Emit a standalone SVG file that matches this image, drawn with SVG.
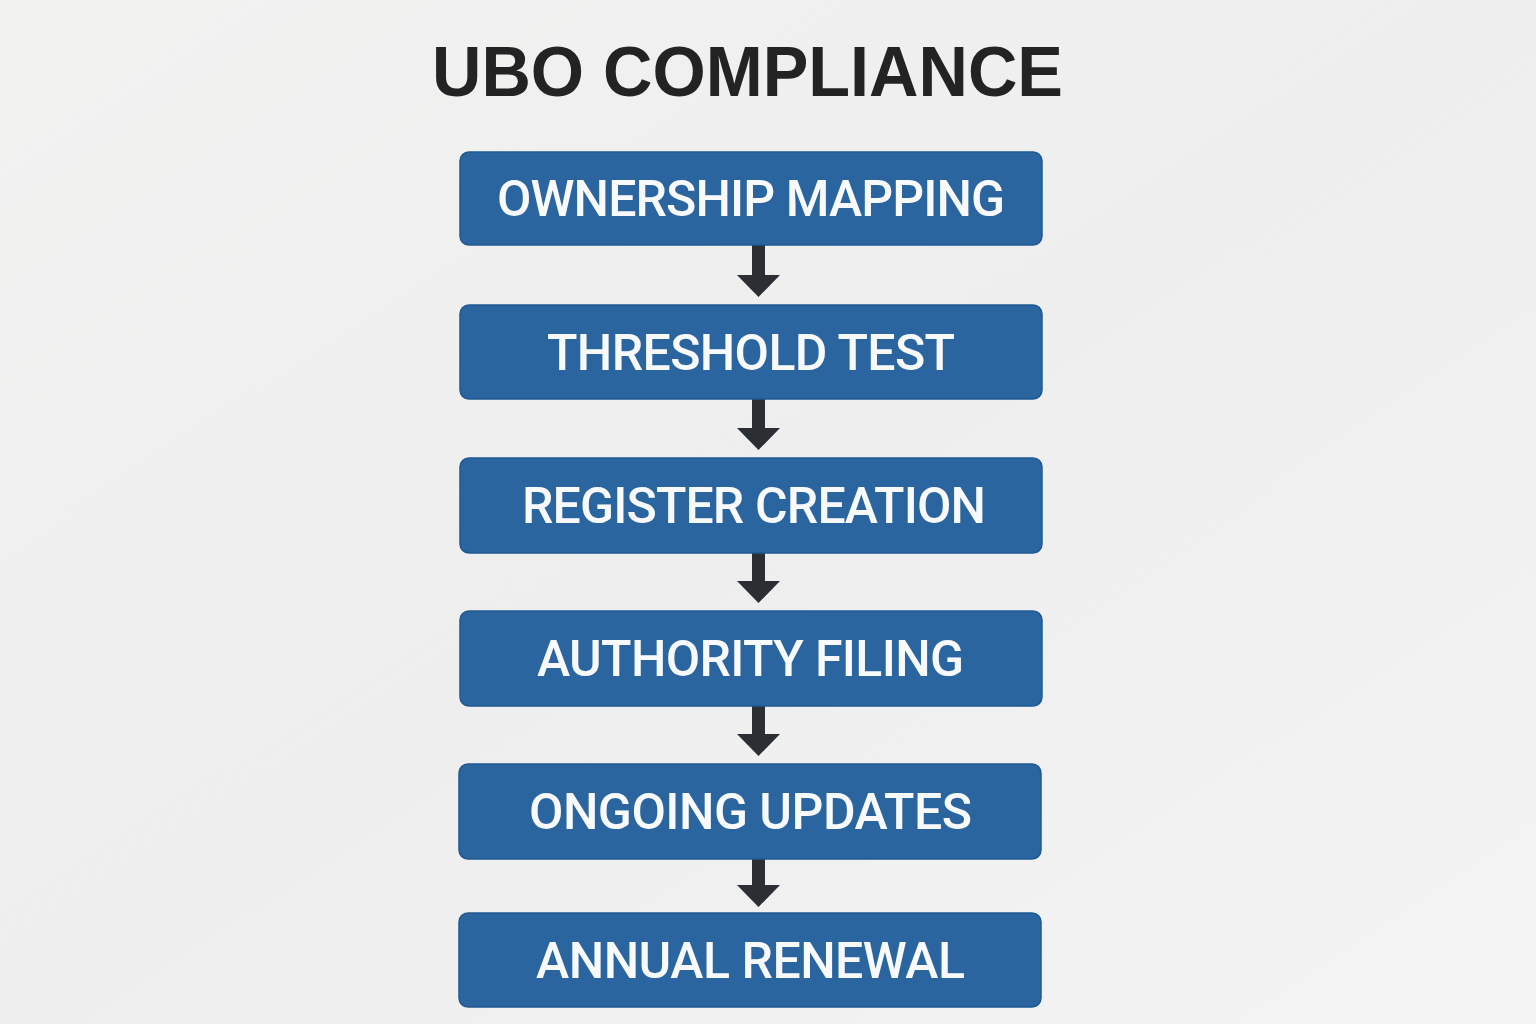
<svg xmlns="http://www.w3.org/2000/svg" width="1536" height="1024" viewBox="0 0 1536 1024">
<defs>
<linearGradient id="bg" x1="0" y1="0" x2="1" y2="1">
<stop offset="0" stop-color="#f2f2f1"/>
<stop offset="0.5" stop-color="#eeeeee"/>
<stop offset="1" stop-color="#f4f4f4"/>
</linearGradient>
<style>
.box{fill:#2a65a0;stroke:#1f5990;stroke-width:1.5}
.lbl{fill:#f7f9fb;font-family:Roboto,"Noto Sans",sans-serif;font-weight:500;font-size:50px;text-anchor:middle;dominant-baseline:central}
.arr{fill:#2b2e32}
.title{fill:#232323;font-family:"Liberation Sans",Arial,sans-serif;font-weight:bold;font-size:71px;text-anchor:middle}
</style>
</defs>
<rect width="1536" height="1024" fill="url(#bg)"/>
<text class="title" x="747.5" y="96" textLength="631" lengthAdjust="spacingAndGlyphs">UBO COMPLIANCE</text>
<g id="connectors">
<path class="arr" d="M752 245H765V275H780L758.5 297L737 275H752Z"/>
<path class="arr" d="M752 399H765V428H780L758.5 450L737 428H752Z"/>
<path class="arr" d="M752 553H765V581H780L758.5 603L737 581H752Z"/>
<path class="arr" d="M752 706H765V734H780L758.5 756L737 734H752Z"/>
<path class="arr" d="M752 859H765V885H780L758.5 907L737 885H752Z"/>
</g>
<g id="node1"><rect class="box" x="460" y="152" width="582" height="93" rx="9"/><text class="lbl" x="751" y="199" textLength="508" lengthAdjust="spacing">OWNERSHIP MAPPING</text></g>
<g id="node2"><rect class="box" x="460" y="305" width="582" height="94" rx="9"/><text class="lbl" x="751" y="353" textLength="408" lengthAdjust="spacing">THRESHOLD TEST</text></g>
<g id="node3"><rect class="box" x="460" y="458" width="582" height="95" rx="9"/><text class="lbl" x="754" y="506" textLength="464" lengthAdjust="spacing">REGISTER CREATION</text></g>
<g id="node4"><rect class="box" x="460" y="611" width="582" height="95" rx="9"/><text class="lbl" x="750.5" y="659" textLength="427" lengthAdjust="spacing">AUTHORITY FILING</text></g>
<g id="node5"><rect class="box" x="459" y="764" width="582" height="95" rx="9"/><text class="lbl" x="750.5" y="812" textLength="443" lengthAdjust="spacing">ONGOING UPDATES</text></g>
<g id="node6"><rect class="box" x="459" y="913" width="582" height="94" rx="9"/><text class="lbl" x="750.5" y="961" textLength="429" lengthAdjust="spacing">ANNUAL RENEWAL</text></g>
</svg>
